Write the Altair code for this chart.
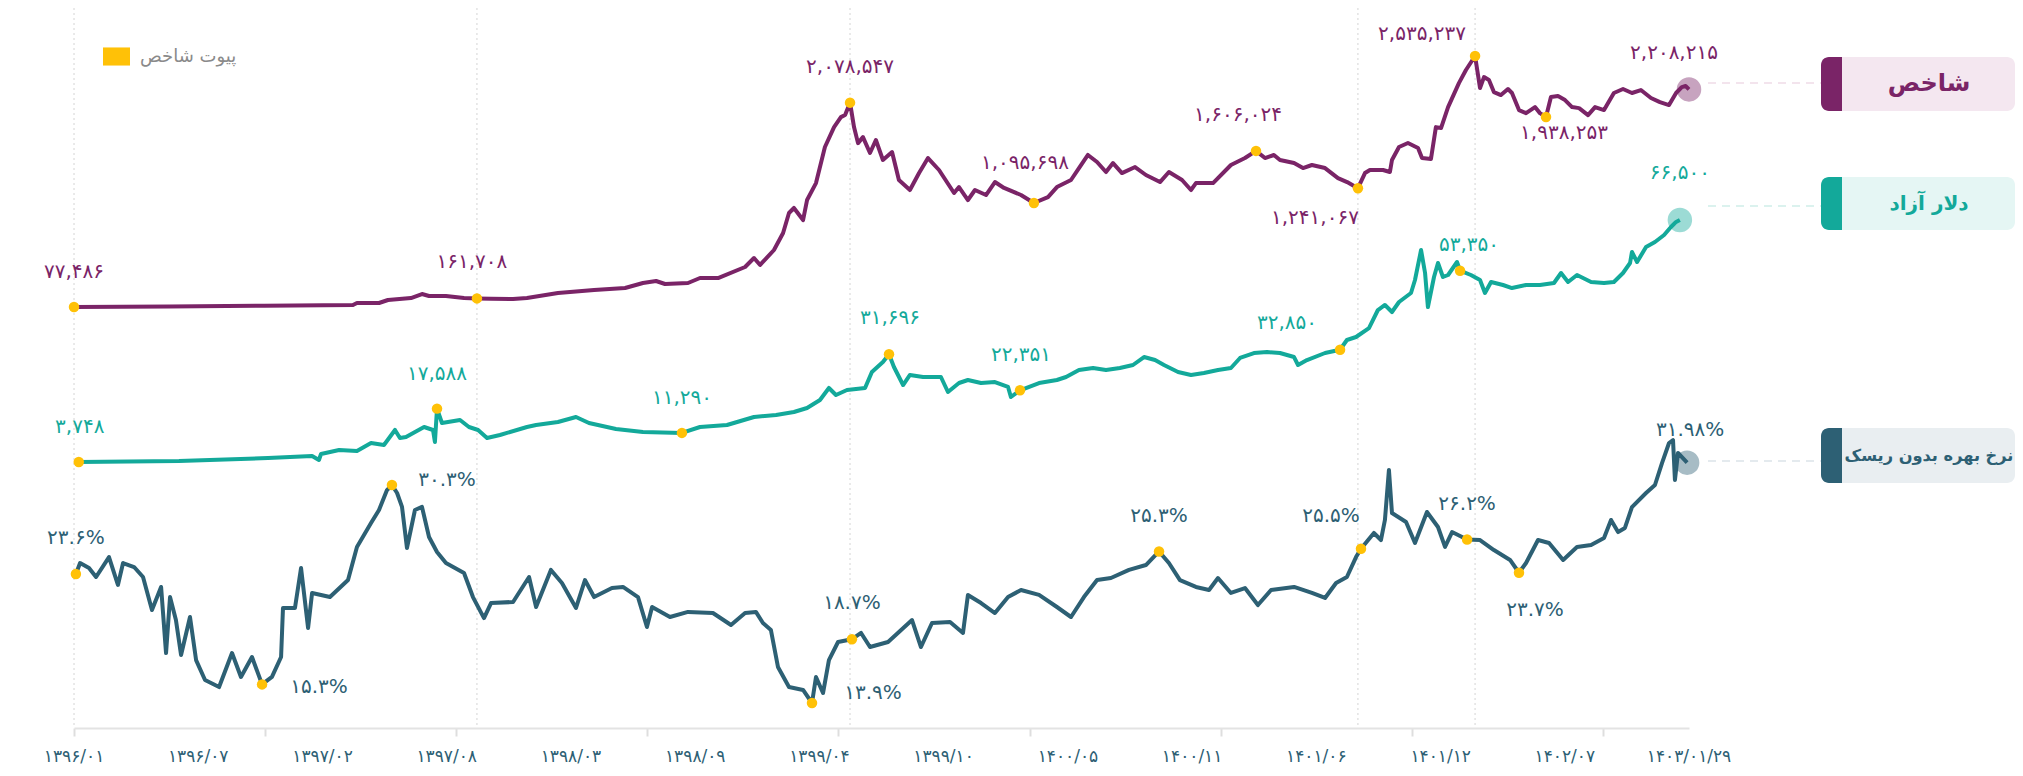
import altair as alt
import pandas as pd

# ---------------- data (x = months since 1396/01/01) ----------------
IDX_SERIES = [
    (0.0, 77486), (5.0, 82000), (10.0, 90000), (14.67, 97000), (14.88, 116500), (16.04, 116500),
    (16.51, 146000), (17.72, 165500), (18.3, 204700), (18.67, 185000), (19.56, 185000), (20.51, 165500),
    (21.19, 161708), (21.93, 158000), (23.09, 156000), (23.82, 165500), (25.45, 214500), (27.35, 243800),
    (28.98, 263400), (29.92, 312400), (30.61, 332000), (31.08, 302600), (32.29, 312400), (32.92, 361300),
    (33.87, 361000), (35.29, 469000), (35.76, 557000), (36.08, 489000), (36.81, 635500), (37.29, 802000),
    (37.6, 998000), (37.86, 1047000), (38.34, 929000), (38.55, 1125000), (39.02, 1291000), (39.49, 1644000),
    (39.97, 1839000), (40.33, 1937000), (40.55, 1957000), (40.81, 2078547), (41.02, 1839000), (41.23, 1682000),
    (41.49, 1741000), (41.86, 1585000), (42.17, 1713000), (42.54, 1517000), (43.02, 1595000), (43.38, 1321000),
    (43.96, 1223000), (44.44, 1389000), (44.91, 1536000), (45.49, 1419000), (46.28, 1194000), (46.54, 1252000),
    (47.01, 1125000), (47.38, 1223000), (47.96, 1174000), (48.43, 1301000), (48.91, 1243000), (49.8, 1174000),
    (50.48, 1095698), (51.22, 1154000), (51.69, 1252000), (52.43, 1321000), (52.85, 1438000), (53.32, 1566000),
    (53.8, 1497000), (54.27, 1399000), (54.64, 1487000), (55.11, 1389000), (55.8, 1448000), (56.37, 1370000),
    (57.11, 1301000), (57.58, 1399000), (58.27, 1321000), (58.74, 1223000), (59.0, 1291000), (59.9, 1291000),
    (60.84, 1468000), (61.58, 1536000), (62.16, 1606024), (62.63, 1536000), (63.1, 1566000), (63.42, 1517000),
    (64.16, 1487000), (64.63, 1438000), (65.1, 1468000), (65.79, 1438000), (66.47, 1340000), (66.95, 1301000),
    (67.52, 1241067), (67.89, 1389000), (68.15, 1419000), (68.84, 1419000), (69.2, 1399000), (69.31, 1517000),
    (69.68, 1644000), (70.15, 1683000), (70.68, 1634000), (70.89, 1536000), (71.36, 1527000), (71.62, 1839000),
    (71.89, 1830000), (72.26, 2035000), (72.83, 2270000), (73.2, 2398000), (73.68, 2535237), (73.94, 2222000),
    (74.15, 2329000), (74.41, 2300000), (74.67, 2182000), (75.04, 2153000), (75.41, 2212000), (75.62, 2173000),
    (75.99, 2006000), (76.36, 1976000), (76.83, 2035000), (77.09, 1976000), (77.41, 1938253), (77.67, 2133000),
    (78.04, 2143000), (78.41, 2104000), (78.78, 2035000), (79.15, 2025000), (79.62, 1957000), (79.99, 2035000),
    (80.46, 2006000), (80.98, 2173000), (81.46, 2212000), (81.93, 2173000), (82.4, 2202000), (82.93, 2124000),
    (83.4, 2084000), (83.88, 2055000), (84.25, 2173000), (84.55, 2231000), (84.75, 2241000), (84.93, 2208215),
]

USD_SERIES = [
    (0.25, 3748), (5.52, 4010), (10.2, 4785), (12.52, 5300), (12.88, 4270), (12.99, 5820), (13.94, 6860),
    (14.88, 6600), (15.62, 8670), (16.3, 8150), (16.88, 12050), (17.14, 9970), (17.46, 10230), (18.41, 12820),
    (18.88, 12050), (18.98, 8930), (19.09, 17588), (19.35, 13860), (20.3, 14640), (20.77, 12820), (21.25, 12050),
    (21.72, 9970), (22.4, 10750), (23.82, 12820), (24.3, 13340), (25.45, 14120), (26.4, 15420), (27.08, 13860),
    (28.5, 12300), (29.92, 11530), (31.97, 11290), (32.92, 12820), (34.34, 13340), (35.76, 15420), (36.92, 15940),
    (37.86, 16710), (38.55, 17750), (39.23, 19820), (39.7, 22940), (40.07, 21120), (40.65, 22420), (41.6, 22940),
    (41.96, 27080), (42.54, 29680), (42.86, 31696), (43.12, 28380), (43.6, 23710), (43.96, 26310), (44.65, 25790),
    (45.59, 25790), (45.96, 21900), (46.54, 24230), (47.01, 25010), (47.7, 24230), (48.43, 24490), (49.12, 23200),
    (49.27, 20600), (49.75, 22351), (50.75, 24230), (51.69, 25010), (52.17, 25790), (52.85, 27600), (53.59, 28120),
    (54.27, 27600), (55.0, 28120), (55.69, 28900), (56.27, 30970), (56.85, 30190), (57.32, 28900), (58.06, 27080),
    (58.74, 26310), (59.42, 26830), (60.16, 27600), (60.84, 28120), (61.32, 30720), (62.05, 32010), (62.74, 32270),
    (63.42, 32010), (64.16, 30970), (64.37, 28900), (64.84, 30190), (65.79, 32010), (66.58, 32850), (66.94, 35380),
    (67.42, 36160), (68.1, 38490), (68.57, 43160), (68.94, 44460), (69.31, 42640), (69.68, 45240), (70.31, 47570),
    (70.52, 50940), (70.84, 58720), (71.05, 52760), (71.2, 43940), (71.52, 51720), (71.73, 55350), (71.99, 51720),
    (72.26, 52240), (72.73, 55610), (72.89, 53350), (73.46, 52240), (73.94, 50940), (74.2, 47570), (74.52, 50430),
    (75.15, 49640), (75.62, 48860), (76.36, 49640), (77.09, 49640), (77.83, 50160), (78.2, 52760), (78.57, 50430),
    (79.04, 52240), (79.78, 50430), (80.46, 50160), (80.98, 50430), (81.46, 52760), (81.83, 55350), (81.93, 58200),
    (82.2, 55610), (82.67, 59500), (83.14, 60790), (83.62, 62610), (83.98, 64680), (84.25, 66000), (84.45, 66500),
]

RATE_SERIES = [
    (0.1, 23.6), (0.32, 24.43), (0.79, 24.06), (1.16, 23.38), (1.84, 24.88), (2.31, 22.78), (2.58, 24.43),
    (3.16, 24.13), (3.63, 23.38), (4.1, 20.9), (4.58, 22.63), (4.84, 17.66), (5.05, 21.87), (5.36, 20.14),
    (5.63, 17.51), (6.1, 20.37), (6.42, 17.13), (6.89, 15.63), (7.63, 15.1), (8.31, 17.66), (8.78, 15.86),
    (9.36, 17.36), (9.89, 15.3), (10.41, 15.86), (10.89, 17.36), (10.99, 21.05), (11.62, 21.05), (11.94, 24.06),
    (12.31, 19.54), (12.52, 22.18), (13.46, 21.87), (14.41, 23.15), (14.88, 25.64), (15.62, 27.44), (16.04, 28.42),
    (16.46, 29.92), (16.72, 30.3), (16.99, 29.7), (17.25, 28.65), (17.51, 25.56), (17.93, 28.42), (18.3, 28.65),
    (18.67, 26.39), (19.09, 25.26), (19.56, 24.43), (20.51, 23.68), (20.98, 21.87), (21.56, 20.29), (21.93, 21.42),
    (23.09, 21.5), (23.93, 23.38), (24.3, 21.12), (25.08, 23.91), (25.66, 22.93), (26.4, 21.05), (26.87, 23.15),
    (27.35, 21.87), (28.29, 22.55), (28.87, 22.63), (29.66, 21.87), (30.13, 19.62), (30.4, 21.12), (31.34, 20.37),
    (32.29, 20.75), (33.6, 20.67), (34.55, 19.77), (35.29, 20.67), (35.86, 20.75), (36.23, 19.92), (36.65, 19.39),
    (37.02, 16.61), (37.6, 15.1), (38.34, 14.88), (38.81, 13.9), (39.02, 15.86), (39.39, 14.65), (39.7, 17.13),
    (40.18, 18.49), (40.91, 18.7), (41.39, 19.17), (41.86, 18.11), (42.81, 18.49), (44.07, 20.14), (44.54, 18.11),
    (45.12, 19.92), (46.07, 19.99), (46.75, 19.17), (47.01, 22.03), (47.7, 21.42), (48.43, 20.67), (49.12, 21.87),
    (49.8, 22.4), (50.75, 22.03), (51.69, 21.12), (52.43, 20.37), (53.11, 21.87), (53.8, 23.15), (54.53, 23.3),
    (55.48, 23.91), (56.37, 24.28), (57.06, 25.3), (57.58, 24.43), (58.16, 23.15), (59.0, 22.63), (59.69, 22.4),
    (60.16, 23.3), (60.84, 22.18), (61.58, 22.55), (62.26, 21.27), (62.95, 22.4), (64.16, 22.63), (65.1, 22.18),
    (65.79, 21.8), (66.37, 22.93), (66.94, 23.38), (67.42, 24.88), (67.68, 25.5), (68.36, 26.69), (68.73, 26.16),
    (68.94, 27.67), (69.15, 31.43), (69.31, 28.19), (70.05, 27.52), (70.52, 25.94), (71.15, 28.27), (71.73, 27.14),
    (72.1, 25.64), (72.47, 26.76), (73.26, 26.2), (73.94, 26.16), (74.67, 25.41), (75.52, 24.66), (75.99, 23.7),
    (76.36, 24.43), (76.99, 26.16), (77.57, 25.94), (78.31, 24.66), (79.04, 25.64), (79.78, 25.79), (80.46, 26.31),
    (80.83, 27.67), (81.2, 26.76), (81.56, 27.07), (81.93, 28.64), (82.67, 29.7), (83.14, 30.3), (83.51, 31.95),
    (83.88, 33.46), (84.09, 33.68), (84.19, 30.68), (84.35, 32.71), (84.83, 31.98),
]

# pivots: month, value, label (last one = latest value)
IDX_PIV_M = [0.0, 21.19, 40.81, 50.48, 62.16, 67.52, 73.68, 77.41, 84.93]
IDX_PIV_V = [77486, 161708, 2078547, 1095698, 1606024, 1241067, 2535237, 1938253, 2208215]
IDX_PIV_T = ["۷۷,۴۸۶", "۱۶۱,۷۰۸", "۲,۰۷۸,۵۴۷", "۱,۰۹۵,۶۹۸", "۱,۶۰۶,۰۲۴", "۱,۲۴۱,۰۶۷",
             "۲,۵۳۵,۲۳۷", "۱,۹۳۸,۲۵۳", "۲,۲۰۸,۲۱۵"]

USD_PIV_M = [0.25, 19.09, 31.97, 42.86, 49.75, 66.58, 72.89, 84.45]
USD_PIV_V = [3748, 17588, 11290, 31696, 22351, 32850, 53350, 66500]
USD_PIV_T = ["۳,۷۴۸", "۱۷,۵۸۸", "۱۱,۲۹۰", "۳۱,۶۹۶", "۲۲,۳۵۱", "۳۲,۸۵۰", "۵۳,۳۵۰", "۶۶,۵۰۰"]

RATE_PIV_M = [0.1, 9.89, 16.72, 38.81, 40.91, 57.06, 67.68, 73.26, 75.99, 84.83]
RATE_PIV_V = [23.6, 15.3, 30.3, 13.9, 18.7, 25.3, 25.5, 26.2, 23.7, 31.98]
RATE_PIV_T = ["۲۳.۶%", "۱۵.۳%", "۳۰.۳%", "۱۳.۹%", "۱۸.۷%", "۲۵.۳%", "۲۵.۵%", "۲۶.۲%", "۲۳.۷%", "۳۱.۹۸%"]

GRID_M = [0.0, 21.19, 40.81, 67.52, 73.68]
TICK_M = [0.0, 10.05, 20.1, 30.15, 40.2, 50.25, 60.3, 70.35, 80.4]
XLAB_M = [0.0, 6.53, 13.07, 19.6, 26.13, 32.67, 39.2, 45.73, 52.27, 58.8, 65.33, 71.87, 78.4, 84.93]
XLAB_T = ["۱۳۹۶/۰۱", "۱۳۹۶/۰۷", "۱۳۹۷/۰۲", "۱۳۹۷/۰۸", "۱۳۹۸/۰۳", "۱۳۹۸/۰۹", "۱۳۹۹/۰۴",
          "۱۳۹۹/۱۰", "۱۴۰۰/۰۵", "۱۴۰۰/۱۱", "۱۴۰۱/۰۶", "۱۴۰۱/۱۲", "۱۴۰۲/۰۷", "۱۴۰۳/۰۱/۲۹"]

SERIES_NAMES = ["شاخص", "دلار آزاد", "نرخ بهره بدون ریسک"]
LEGEND_NAME = "پیوت شاخص"

# ---------------- layout / style ----------------
W, H = 2007, 720
FONT = "DejaVu Sans"
C_IDX, C_USD, C_RATE = "#7a2467", "#13a99a", "#2d6074"
BG_IDX, BG_USD, BG_RATE = "#f4e7f0", "#e5f6f4", "#e9eef1"
DASH_IDX, DASH_USD, DASH_RATE = "#efdbe8", "#cfeee9", "#dbe4e9"
YELLOW = "#ffc107"

# label offsets (dx, dy) in px per pivot
IDX_OFF = [(0, -35), (-5, -36), (0, -36), (-9, -40), (-18, -36), (-43, 30), (-53, -22), (18, 16), (-15, -36)]
USD_OFF = [(1, -35), (0, -35), (0, -35), (1, -36), (1, -35), (-53, -27), (9, -26), (0, -47)]
RATE_OFF = [(0, -36), (57, 3), (55, -5), (61, -10), (0, -36), (0, -35), (-30, -33), (0, -36), (16, 37), (3, -33)]

xscale = alt.Scale(domain=[0, 84.93], range=[66, 1681], nice=False, zero=False)
xaxis = alt.Axis(values=TICK_M, labels=False, ticks=True, tickSize=8, tickColor="#dedede", tickWidth=2,
                 domainColor="#e3e3e3", domainWidth=2, grid=False, title=None)


def X():
    return alt.X("m:Q", scale=xscale, axis=xaxis)


def series_layers(series, pm, pv, pt, off, color, dom, rng, legend_layer=False):
    ys = alt.Scale(domain=dom, range=rng, nice=False, zero=False)
    Y = alt.Y("v:Q", scale=ys, axis=None)
    ldf = pd.DataFrame(series, columns=["m", "v"])
    pdf = pd.DataFrame({"m": pm, "v": pv, "label": pt})
    pdf["lg"] = LEGEND_NAME
    dots_df = pdf.iloc[:-1]
    end_df = pdf.iloc[-1:]
    line = alt.Chart(ldf).mark_line(color=color, strokeWidth=4, strokeJoin="round").encode(x=X(), y=Y)
    halo = alt.Chart(end_df).mark_circle(size=600, opacity=0.42, color=color).encode(x=X(), y=Y)
    if legend_layer:
        col = alt.Color("lg:N", scale=alt.Scale(domain=[LEGEND_NAME], range=[YELLOW]),
                        legend=alt.Legend(title=None, orient="none", legendX=95, legendY=35,
                                          symbolType="M-1,-0.67H1V0.67H-1Z", symbolSize=729,
                                          symbolStrokeWidth=0, symbolOpacity=1,
                                          labelFont=FONT, labelFontSize=18, labelColor="#8a8a8a",
                                          labelOffset=10))
    else:
        col = alt.value(YELLOW)
    dots = alt.Chart(dots_df).mark_circle(size=110, opacity=1).encode(x=X(), y=Y, color=col)
    out = [line, halo, dots]
    for i, (dx, dy) in enumerate(off):
        out.append(
            alt.Chart(pdf.iloc[i:i + 1]).mark_text(font=FONT, fontSize=20, color=color, align="center",
                                                   baseline="middle", dx=dx, dy=dy).encode(
                x=X(), y=Y, text="label:N"))
    return out


one = pd.DataFrame({"k": [0]})


def box(name, color, bg, dash, top, bottom, dash_y, fsize):
    b = alt.Chart(one).mark_rect(color=bg, cornerRadius=8).encode(
        x=alt.value(1813), x2=alt.value(2007), y=alt.value(top), y2=alt.value(bottom))
    bar = alt.Chart(one).mark_rect(color=color, cornerRadiusTopLeft=8, cornerRadiusBottomLeft=8).encode(
        x=alt.value(1813), x2=alt.value(1834), y=alt.value(top), y2=alt.value(bottom))
    t = alt.Chart(pd.DataFrame({"name": [name]})).mark_text(
        font=FONT, fontWeight="bold", fontSize=fsize, color=color, align="center", baseline="middle").encode(
        x=alt.value(1921), y=alt.value((top + bottom) / 2), text="name:N")
    d = alt.Chart(one).mark_rule(color=dash, strokeDash=[8, 6], strokeWidth=1.5).encode(
        x=alt.value(1700), x2=alt.value(1813), y=alt.value(dash_y))
    return [b, bar, d, t]


grid = alt.Chart(pd.DataFrame({"m": GRID_M})).mark_rule(
    color="#d4d4d4", strokeDash=[2, 3], strokeWidth=1).encode(x=X(), y=alt.value(0), y2=alt.value(H))

xlabels = alt.Chart(pd.DataFrame({"m": XLAB_M, "label": XLAB_T})).mark_text(
    font=FONT, fontSize=17, color=C_RATE, align="center", baseline="middle").encode(
    x=X(), y=alt.value(749), text="label:N")

layers = [grid]
layers += box(SERIES_NAMES[0], C_IDX, BG_IDX, DASH_IDX, 49, 103, 75, 24)
layers += box(SERIES_NAMES[1], C_USD, BG_USD, DASH_USD, 169, 222, 198, 20)
layers += box(SERIES_NAMES[2], C_RATE, BG_RATE, DASH_RATE, 420, 475, 453, 16.2)
layers += series_layers(IDX_SERIES, IDX_PIV_M, IDX_PIV_V, IDX_PIV_T, IDX_OFF, C_IDX,
                        [77486, 2535237], [299, 48], legend_layer=True)
layers += series_layers(USD_SERIES, USD_PIV_M, USD_PIV_V, USD_PIV_T, USD_OFF, C_USD,
                        [3748, 66500], [454, 212])
layers += series_layers(RATE_SERIES, RATE_PIV_M, RATE_PIV_V, RATE_PIV_T, RATE_OFF, C_RATE,
                        [13.9, 30.3], [695, 477])
layers.append(xlabels)

chart = alt.layer(*layers).resolve_scale(y="independent").properties(
    width=W, height=H,
    autosize=alt.AutoSizeParams(type="none"),
    padding={"left": 0, "top": 0, "right": 0, "bottom": 40},
    background="white",
).configure_view(stroke=None)

chart.save("out.html", embed_options={"renderer": "svg", "actions": False})
